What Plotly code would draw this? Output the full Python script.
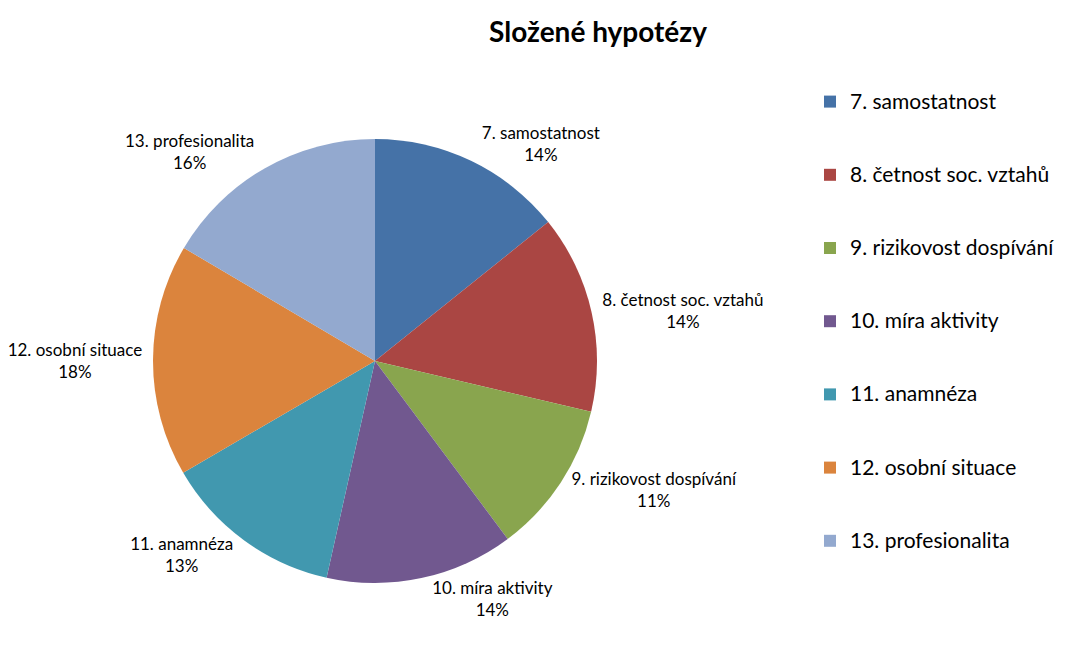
import plotly.graph_objects as go

FONT = 'Lato'

# slices, clockwise from 12 o'clock (shares)
categories = ['7. samostatnost', '8. četnost soc. vztahů', '9. rizikovost dospívání',
              '10. míra aktivity', '11. anamnéza', '12. osobní situace', '13. profesionalita']
shares = [14.24, 14.43, 11.13, 13.70, 13.10, 16.90, 16.50]
pct_labels = ['14%', '14%', '11%', '14%', '13%', '18%', '16%']

COLORS = ['#4572A7', '#AA4643', '#89A54E', '#71588F', '#4198AF', '#DB843D', '#93A9CF']

# legend entries padded with blank lines to get Excel-like spacing
legend_names = ['&nbsp;<br><span style="font-size:21px">' + c + '</span><br>&nbsp;'
                for c in categories]

fig = go.Figure(go.Pie(
    labels=legend_names,
    values=shares,
    customdata=categories,
    text=pct_labels,
    texttemplate='%{customdata}<br>%{text}',
    textposition='outside',
    textfont=dict(family=FONT, size=17, color='black'),
    marker=dict(colors=COLORS, line=dict(width=0)),
    sort=False,
    direction='clockwise',
    rotation=0,
    domain=dict(x=[(375 - 222) / 1077, (375 + 222) / 1077],
                y=[(294 - 222) / 655, (294 + 222) / 655]),
    hoverinfo='skip',
))

fig.update_layout(
    width=1077, height=655,
    margin=dict(l=0, r=0, t=0, b=0),
    paper_bgcolor='white',
    font=dict(family=FONT, size=18, color='black'),
    title=dict(text='<b>Složené hypotézy</b>', x=598 / 1077, xanchor='center',
               y=1 - 32 / 655, yanchor='middle',
               font=dict(family=FONT, size=28, color='black')),
    legend=dict(x=810 / 1077, xanchor='left', y=1 - 60 / 655, yanchor='top',
                font=dict(family=FONT, size=18, color='black'),
                bgcolor='rgba(0,0,0,0)'),
)

fig.write_html('out.html', config={'displayModeBar': False},
               post_script="document.body.style.margin='0';")
